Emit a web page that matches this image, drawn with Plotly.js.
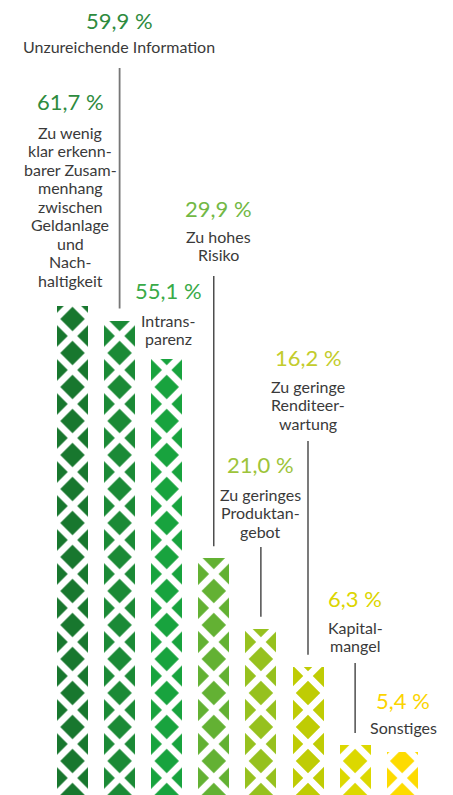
<!DOCTYPE html>
<html lang="de">
<head>
<meta charset="utf-8">
<script src="https://cdn.plot.ly/plotly-3.0.1.min.js"></script>
<style>
  html, body { margin: 0; padding: 0; background: #fff; }
  #chart { width: 453px; height: 795px; }
</style>
</head>
<body>
<div id="chart"></div>
<script>
/* Gründe gegen nachhaltige Geldanlage – Balken mit Rautenmuster */
var CATEGORIES = [
  'Zu wenig<br>klar erkenn-<br>barer Zusam-<br>menhang<br>zwischen<br>Geldanlage<br>und<br>Nach-<br>haltigkeit',
  'Unzureichende Information',
  'Intrans-<br>parenz',
  'Zu hohes<br>Risiko',
  'Zu geringes<br>Produktan-<br>gebot',
  'Zu geringe<br>Renditeer-<br>wartung',
  'Kapital-<br>mangel',
  'Sonstiges'
];
var VALUES = [61.7, 59.9, 55.1, 29.9, 21.0, 16.2, 6.3, 5.4];
var BAR_COLORS = ['#18772e', '#1b8a36', '#18a33e', '#63b133', '#96c11e', '#bfcc04', '#dcd800', '#fddb00'];
var PCT_COLORS = ['#2e8b3e', '#2e8b3e', '#39aa48', '#72b845', '#9dc43a', '#c3cc2c', '#dcd500', '#fbd400'];

/* Platzierung der Beschriftungen (px von oben) */
var LABEL_X   = [70, 119, 168, 218, 260, 308, 355, 403];
var PCT_Y     = [101, 20, 290, 208, 464, 357, 598, 700];
var TEXT_Y    = [132, 46, 320, 236, 494, 386, 627, 727];
var LINE_TOP  = [null, 68, null, 276, 547, 441, 663, null];

var W = 453, HT = 795;
var TILE = 34, BAR_W = 31, LINE_H = 18.5, PX_PER_PCT = 7.92;
var PLOT_H = 23 * TILE;            // Musterkacheln enden genau an der Grundlinie
var TOP = HT - PLOT_H;
var Y_MAX = PLOT_H / PX_PER_PCT;

function pxToY(px) { return (HT - px) / PLOT_H * Y_MAX; }
function barCenter(i) { return 72.5 + 47.1 * i; }
function axId(i) { return i === 0 ? 'x' : 'x' + (i + 1); }
function axKey(i) { return i === 0 ? 'xaxis' : 'xaxis' + (i + 1); }
function pct(v) { return v.toFixed(1).replace('.', ',') + ' %'; }

var traces = [], annotations = [], shapes = [];
var layout = {
  width: W, height: HT, autosize: false,
  margin: { l: 0, r: 0, t: TOP, b: 0, pad: 0 },
  paper_bgcolor: '#fff', plot_bgcolor: 'rgba(0,0,0,0)',
  showlegend: false, dragmode: false, bargap: 0, barmode: 'overlay',
  font: { family: 'Lato, "Open Sans", sans-serif', size: 16, color: '#333' },
  yaxis: { range: [0, Y_MAX], domain: [0, 1], anchor: 'x', visible: false, fixedrange: true }
};

VALUES.forEach(function (v, i) {
  var cx = barCenter(i);
  /* eigene x-Achse je Balken, damit das Muster an jedem Balken ausgerichtet ist */
  layout[axKey(i)] = {
    domain: [(cx - TILE / 2) / W, (cx + TILE / 2) / W],
    range: [-0.5, 0.5], anchor: 'y', visible: false, fixedrange: true
  };
  /* Rauten = '/'-Muster plus darübergelegtes '\'-Muster (Kachel = size * sqrt(2) = TILE) */
  ['/', '\\'].forEach(function (shape, k) {
    traces.push({
      type: 'bar', x: [0], y: [v], width: BAR_W / TILE,
      xaxis: axId(i), yaxis: 'y', hoverinfo: 'skip',
      marker: {
        color: k === 0 ? BAR_COLORS[i] : 'rgba(0,0,0,0)', line: { width: 0 },
        pattern: { shape: shape, size: TILE / Math.SQRT2, solidity: 0.28, fgcolor: '#ffffff',
                   bgcolor: k === 0 ? BAR_COLORS[i] : 'rgba(0,0,0,0)', fillmode: 'replace' }
      }
    });
  });

  annotations.push({
    xref: 'paper', yref: 'y', x: LABEL_X[i] / W, y: pxToY(PCT_Y[i]),
    xanchor: 'center', yanchor: 'middle', showarrow: false,
    text: pct(v), font: { size: 22, color: PCT_COLORS[i] }
  });
  CATEGORIES[i].split('<br>').forEach(function (line, k) {
    annotations.push({
      xref: 'paper', yref: 'y', x: LABEL_X[i] / W, y: pxToY(TEXT_Y[i] + k * LINE_H),
      xanchor: 'center', yanchor: 'middle', showarrow: false,
      text: line, font: { size: 16, color: '#3a3a3a' }
    });
  });

  if (LINE_TOP[i] !== null) {
    shapes.push({
      type: 'line', xref: axId(i), yref: 'y', x0: 0, x1: 0,
      y0: v + 12 / PX_PER_PCT, y1: pxToY(LINE_TOP[i]),
      line: { color: i === 1 ? '#777' : '#222', width: i === 1 ? 1.8 : 1.2 }
    });
  }
});

layout.annotations = annotations;
layout.shapes = shapes;

Plotly.newPlot('chart', traces, layout, { displayModeBar: false, staticPlot: true });
</script>
</body>
</html>
